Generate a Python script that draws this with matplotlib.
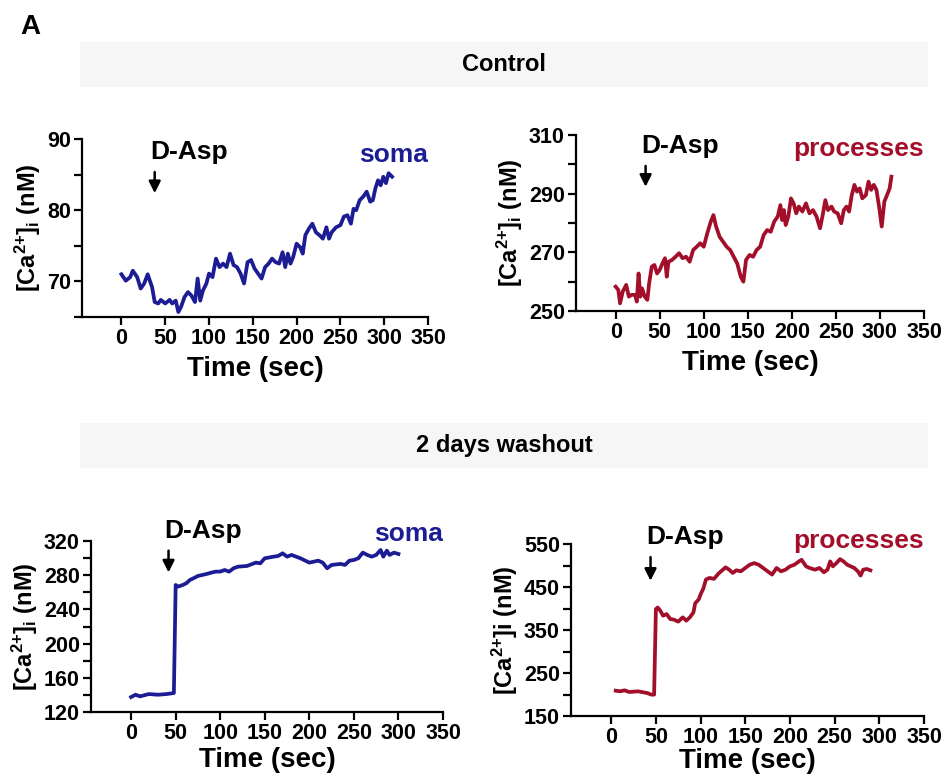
import matplotlib
matplotlib.use("Agg")
import numpy as np
import matplotlib.pyplot as plt
from matplotlib.patches import Rectangle

plt.rcParams['font.family'] = ['Liberation Sans', 'DejaVu Sans']
plt.rcParams['font.weight'] = 'bold'
plt.rcParams['mathtext.fontset'] = 'custom'
plt.rcParams['mathtext.rm'] = 'Liberation Sans:bold'
plt.rcParams['mathtext.it'] = 'Liberation Sans:bold'
plt.rcParams['mathtext.bf'] = 'Liberation Sans:bold'

BLUE = "#1c1c94"
RED = "#a30f2b"

# Control, soma
ctrl_soma_t = [0, 5, 10, 13, 18, 22, 26, 30, 33, 35, 38, 42, 45, 50, 55, 58, 62, 65, 68, 72,
               76, 80, 84, 87, 90, 93, 97, 100, 104, 108, 112, 116, 120, 124, 128, 132, 136,
               140, 144, 148, 152, 156, 160, 164, 168, 172, 176, 180, 184, 187, 190, 193, 196,
               200, 204, 207, 210, 214, 218, 222, 226, 230, 234, 237, 240, 245, 250, 254, 258,
               262, 265, 268, 272, 276, 280, 284, 287, 290, 293, 296, 299, 302, 305, 309]
ctrl_soma_ca = [71.0, 70.1, 70.6, 71.5, 70.6, 69.0, 69.7, 71.0, 69.9, 69.2, 67.1, 66.9, 67.4,
                66.9, 67.4, 66.9, 67.3, 65.7, 66.4, 67.8, 68.5, 68.0, 67.1, 70.4, 67.3, 68.7,
                69.7, 71.1, 70.6, 73.2, 72.0, 72.5, 72.0, 73.9, 72.3, 72.0, 71.1, 69.7, 72.7,
                73.0, 71.8, 71.1, 70.4, 72.0, 72.5, 73.2, 72.7, 72.5, 74.1, 72.0, 73.9, 72.5,
                73.4, 75.3, 74.8, 73.9, 76.5, 77.4, 78.1, 76.9, 76.5, 76.0, 77.6, 76.0, 76.9,
                77.6, 77.9, 79.1, 79.3, 78.1, 80.2, 80.0, 81.4, 81.9, 82.6, 81.2, 81.4, 83.1,
                84.2, 83.5, 84.7, 83.8, 85.2, 84.7]

# Control, processes
ctrl_proc_t = [0, 3, 5, 8, 12, 15, 18, 22, 24, 26, 28, 30, 33, 36, 38, 41, 44, 47, 50, 53, 56,
               58, 60, 64, 68, 72, 76, 80, 84, 88, 92, 96, 100, 104, 108, 111, 114, 118, 122,
               126, 130, 134, 138, 142, 145, 148, 152, 156, 160, 164, 168, 172, 176, 180, 184,
               187, 189, 191, 193, 196, 199, 202, 205, 208, 212, 216, 220, 224, 228, 232, 235,
               238, 241, 245, 248, 252, 256, 259, 262, 265, 268, 271, 274, 277, 280, 284, 287,
               290, 293, 296, 299, 302, 305, 308, 311, 313]
ctrl_proc_ca = [258.3, 257.2, 252.6, 256.6, 258.9, 254.9, 255.5, 255.5, 253.2, 262.8, 254.9,
                257.7, 254.9, 253.8, 259.4, 265.1, 265.7, 262.8, 264.0, 266.2, 268.0, 261.7,
                266.8, 267.4, 268.5, 269.7, 268.0, 268.5, 266.8, 270.8, 271.9, 273.1, 271.9,
                276.5, 280.5, 282.7, 278.8, 275.3, 273.6, 271.9, 270.8, 268.5, 266.2, 261.7,
                260.0, 267.4, 269.1, 268.5, 270.8, 271.9, 275.9, 277.6, 277.0, 280.5, 282.2,
                286.1, 281.0, 284.4, 279.3, 282.2, 288.4, 286.7, 283.3, 285.6, 283.9, 286.7,
                283.3, 284.4, 282.2, 278.2, 282.7, 287.8, 284.4, 285.6, 283.9, 283.3, 279.9,
                284.4, 285.6, 283.9, 289.5, 293.0, 290.7, 291.8, 288.4, 289.5, 294.1, 291.3,
                293.0, 291.3, 285.6, 278.8, 287.3, 289.5, 291.8, 295.8]

# 2 days washout, soma
wash_soma_t = [0, 5, 10, 20, 30, 40, 48, 50, 53, 58, 62, 66, 70, 75, 80, 85, 90, 95, 100, 105,
               110, 115, 120, 130, 140, 145, 150, 160, 165, 170, 175, 180, 190, 200, 210, 215,
               220, 225, 235, 240, 245, 250, 255, 260, 265, 270, 275, 280, 283, 287, 290, 295,
               300]
wash_soma_ca = [137.5, 140.2, 138.3, 141.0, 140.2, 141.0, 142.2, 268.6, 266.7, 268.6, 270.6,
                274.5, 276.4, 279.1, 280.3, 281.5, 283.0, 284.2, 284.2, 286.1, 284.2, 288.1,
                290.0, 290.8, 294.7, 293.9, 299.8, 301.7, 302.5, 305.6, 301.7, 303.7, 299.8,
                294.7, 297.0, 294.7, 288.1, 292.0, 293.2, 292.0, 297.0, 297.8, 299.8, 306.4,
                303.7, 301.7, 303.7, 309.5, 301.7, 308.7, 303.7, 306.4, 304.8]

# 2 days washout, processes
wash_proc_t = [5, 10, 15, 20, 30, 40, 45, 48, 50, 52, 55, 58, 62, 66, 70, 75, 80, 84, 88, 92,
               94, 98, 100, 103, 106, 110, 115, 120, 125, 128, 132, 136, 140, 145, 150, 155,
               160, 165, 170, 175, 180, 185, 190, 195, 200, 205, 210, 213, 218, 222, 228, 233,
               238, 242, 245, 248, 252, 256, 260, 264, 268, 272, 276, 279, 282, 286, 290]
wash_proc_ca = [208.9, 207.4, 209.7, 205.8, 207.4, 203.5, 199.7, 199.7, 398.6, 402.4, 394.7,
                383.3, 387.1, 375.6, 374.1, 369.5, 379.4, 371.8, 379.4, 390.9, 412.3, 421.5,
                433.0, 446.0, 467.4, 471.2, 468.9, 481.2, 490.3, 495.7, 490.3, 482.7, 488.8,
                486.5, 494.2, 501.8, 505.6, 501.8, 494.2, 486.5, 478.9, 494.2, 486.5, 490.3,
                498.0, 501.8, 509.5, 513.3, 498.0, 494.2, 490.3, 494.2, 484.2, 490.3, 509.5,
                498.0, 505.6, 514.8, 509.5, 501.8, 498.0, 494.2, 486.5, 476.6, 490.3, 491.9,
                488.8]

time_ticks = [0, 50, 100, 150, 200, 250, 300, 350]
ctrl_soma_yticks = [70, 80, 90]
ctrl_proc_yticks = [250, 270, 290, 310]
wash_soma_yticks = [120, 160, 200, 240, 280, 320]
wash_proc_yticks = [150, 250, 350, 450, 550]

W, H = 948, 780
fig = plt.figure(figsize=(W / 100, H / 100), dpi=100)


def px_axes(x0, y0, x1, y1):
    # pixel box (top-left origin) -> figure axes
    return fig.add_axes([x0 / W, 1 - y1 / H, (x1 - x0) / W, (y1 - y0) / H])


def band(y0, y1, label):
    fig.patches.append(Rectangle((80 / W, 1 - y1 / H), 848 / W, (y1 - y0) / H,
                                 transform=fig.transFigure, facecolor="#f6f6f6",
                                 edgecolor="none", zorder=0))
    fig.text(504 / W, 1 - (y0 + y1) / 2 / H, label, ha="center", va="center",
             fontsize=17, fontweight="bold")


def panel(box, t, ca, color, ylim, yticks, minor, ylabel, stim_t, name, arrow_y, xpad=5):
    ax = px_axes(*box)
    ax.plot(t, ca, color=color, lw=2.7, solid_joinstyle="round")
    ax.set_xlim(-45, 350)
    ax.set_ylim(*ylim)
    ax.set_xticks(time_ticks)
    ax.set_yticks(yticks)
    ax.set_yticks(np.arange(ylim[0], ylim[1] + 1, minor), minor=True)
    for s in ("top", "right"):
        ax.spines[s].set_visible(False)
    for s in ("left", "bottom"):
        ax.spines[s].set_linewidth(1.6)
    ax.tick_params(which="both", direction="out", length=6, width=1.6, labelsize=15.5, pad=2)
    for lab in ax.get_xticklabels() + ax.get_yticklabels():
        lab.set_fontweight("bold")
    ax.set_xlabel("Time (sec)", fontsize=20, fontweight="bold", labelpad=xpad)
    ax.set_ylabel(ylabel, fontsize=17, fontweight="bold", labelpad=3)
    ax.annotate("", xy=(stim_t, arrow_y[1]), xytext=(stim_t, arrow_y[0]),
                xycoords=("data", "axes fraction"),
                arrowprops=dict(arrowstyle="-|>,head_width=0.35,head_length=0.7",
                                color="black", lw=1.8))
    ax.text(stim_t - 5, arrow_y[0] + 0.03, "D-Asp", transform=ax.get_xaxis_transform(),
            ha="left", va="bottom", fontsize=19, fontweight="bold")
    ax.text(1.0, arrow_y[0] + 0.01, name, transform=ax.transAxes, ha="right", va="bottom",
            fontsize=19, fontweight="bold", color=color)
    return ax


fig.text(20 / W, 1 - 27 / H, "A", fontsize=20, fontweight="bold", va="center")
band(42, 87, "Control")
band(423, 468, "2 days washout")

ca_label = r"[Ca$^{2{+}}$]$_{\mathrm{i}}$ (nM)"
panel((82, 139, 428, 317), ctrl_soma_t, ctrl_soma_ca, BLUE, (65, 90), ctrl_soma_yticks, 5,
      ca_label, 38, "soma", (0.83, 0.68))
panel((576, 135, 924, 311), ctrl_proc_t, ctrl_proc_ca, RED, (250, 310), ctrl_proc_yticks, 10,
      ca_label, 34, "processes", (0.84, 0.69))
panel((91, 541, 443, 712), wash_soma_t, wash_soma_ca, BLUE, (120, 320), wash_soma_yticks, 20,
      ca_label, 42, "soma", (0.96, 0.80), xpad=2)
panel((571, 544, 924, 716), wash_proc_t, wash_proc_ca, RED, (150, 550), wash_proc_yticks, 50,
      r"[Ca$^{2{+}}$]i (nM)", 44, "processes", (0.94, 0.77), xpad=0)

fig.savefig("out.png", dpi=100)
